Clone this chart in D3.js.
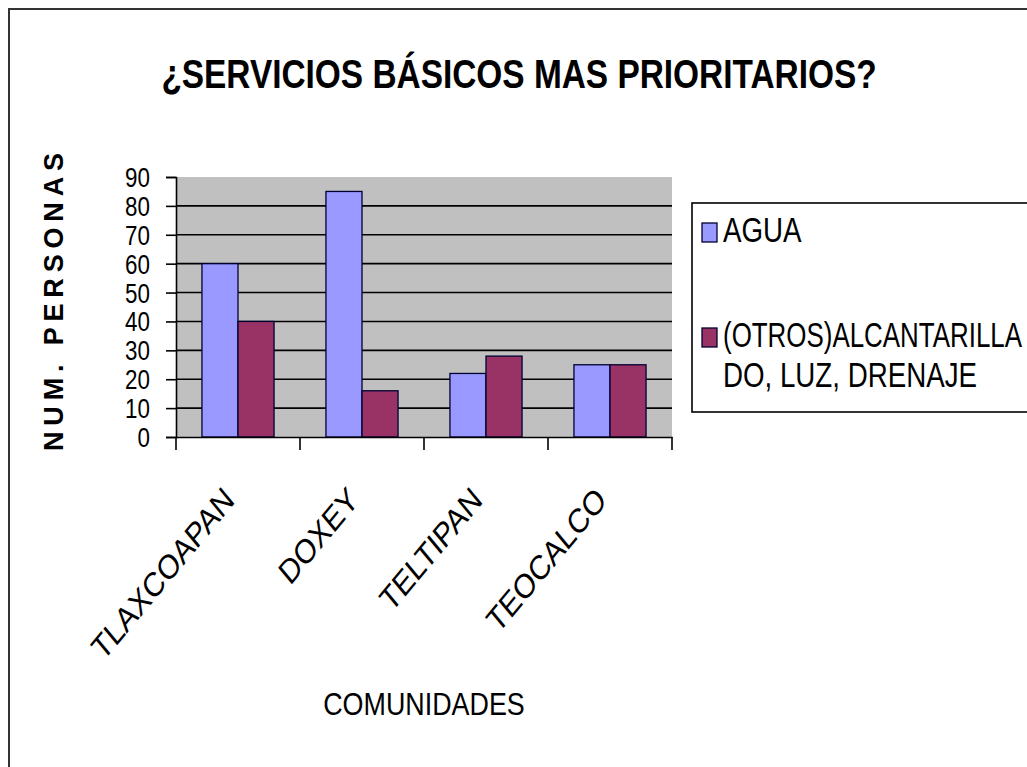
<!DOCTYPE html>
<html>
<head>
<meta charset="utf-8">
<script src="https://cdn.jsdelivr.net/npm/d3@7"></script>
<style>
  body { margin: 0; background: #fff; }
  svg { display: block; font-family: "Liberation Sans", Arial, sans-serif; }
</style>
</head>
<body>
<svg id="chart"></svg>
<script>
// data
var comunidades = ["TLAXCOAPAN", "DOXEY", "TELTIPAN", "TEOCALCO"];
var agua = [60, 85, 22, 25];
var otros = [40, 16, 28, 25];
var series = ["AGUA", "(OTROS)ALCANTARILLADO, LUZ, DRENAJE"];
var colores = ["#9999FF", "#993366"];
var yTicks = [0, 10, 20, 30, 40, 50, 60, 70, 80, 90];

var svgWidth = 1027, svgHeight = 767;
var plot = { left: 176, right: 672, top: 177, bottom: 437 };

var svg = d3.select("#chart")
    .attr("width", svgWidth)
    .attr("height", svgHeight);

// the original picture is squeezed sideways, so text is squeezed too
function squeeze(px, py, f, extra) {
    return "translate(" + px + "," + py + ") scale(" + f + ",1)" + (extra || "");
}

// outer frame (only top and left show)
svg.append("path")
    .attr("d", "M9,767 V9 H1027")
    .attr("fill", "none")
    .attr("stroke", "#333")
    .attr("stroke-width", 2);

// title
svg.append("text")
    .attr("transform", squeeze(519, 88, 0.815))
    .attr("text-anchor", "middle")
    .attr("font-size", 41)
    .attr("font-weight", "bold")
    .text("¿SERVICIOS BÁSICOS MAS PRIORITARIOS?");

var x = d3.scaleBand()
    .domain(comunidades)
    .range([plot.left, plot.right]);

var x1 = d3.scaleBand()
    .domain(d3.range(series.length))
    .range([0, x.bandwidth()])
    .paddingOuter(0.72);

var y = d3.scaleLinear()
    .domain([0, 90])
    .range([plot.bottom, plot.top]);

// plot area
svg.append("rect")
    .attr("x", plot.left)
    .attr("y", y(90))
    .attr("width", plot.right - plot.left)
    .attr("height", y(0) - y(90))
    .attr("fill", "#C0C0C0");

// gridlines
svg.append("g")
    .selectAll("line")
    .data(yTicks.filter(function(d) { return d > 0 && d < 90; }))
    .enter().append("line")
    .attr("x1", plot.left)
    .attr("x2", plot.right)
    .attr("y1", function(d) { return y(d); })
    .attr("y2", function(d) { return y(d); })
    .attr("stroke", "#000")
    .attr("stroke-width", 1.6);

// bars
var grupos = svg.append("g")
    .selectAll("g")
    .data(comunidades)
    .enter().append("g")
    .attr("transform", function(d) { return "translate(" + x(d) + ",0)"; });

grupos.selectAll("rect")
    .data(function(d, i) { return [agua[i], otros[i]]; })
    .enter().append("rect")
    .attr("x", function(d, j) { return x1(j); })
    .attr("width", x1.bandwidth())
    .attr("y", function(d) { return y(d); })
    .attr("height", function(d) { return y(0) - y(d); })
    .attr("fill", function(d, j) { return colores[j]; })
    .attr("stroke", "#000033")
    .attr("stroke-width", 1.3);

// y axis
var yAxis = svg.append("g")
    .attr("transform", "translate(" + plot.left + ",0)")
    .call(d3.axisLeft(y).tickValues(yTicks).tickSize(10).tickFormat(""));
yAxis.select(".domain").attr("stroke", "#000").attr("stroke-width", 1.6);
yAxis.selectAll(".tick line").attr("stroke-width", 1.6);

svg.append("g")
    .selectAll("text")
    .data(yTicks)
    .enter().append("text")
    .attr("transform", function(d) { return squeeze(150, y(d) + 10, 0.8); })
    .attr("text-anchor", "end")
    .attr("font-size", 28)
    .text(function(d) { return d; });

// x axis: line at zero and ticks on band edges
var xAxis = svg.append("g")
    .attr("transform", "translate(0," + plot.bottom + ")")
    .call(d3.axisBottom(x).tickSize(0).tickFormat(""));
xAxis.select(".domain").attr("stroke", "#000").attr("stroke-width", 1.6);

var bordes = comunidades.map(function(d) { return x(d); }).concat([x.range()[1]]);
svg.append("g")
    .selectAll("line")
    .data(bordes)
    .enter().append("line")
    .attr("x1", function(d) { return d; })
    .attr("x2", function(d) { return d; })
    .attr("y1", plot.bottom)
    .attr("y2", plot.bottom + 13)
    .attr("stroke", "#000")
    .attr("stroke-width", 1.6);

// rotated category labels
svg.append("g")
    .selectAll("text")
    .data(comunidades)
    .enter().append("text")
    .attr("text-anchor", "end")
    .attr("font-size", 34)
    .attr("transform", function(d) {
        return squeeze(x(d) + x.bandwidth() / 2 - 2, plot.bottom + 65, 0.83, " rotate(-45)");
    })
    .text(function(d) { return d; });

// axis titles
svg.append("text")
    .attr("transform", squeeze(424, 715, 0.84))
    .attr("text-anchor", "middle")
    .attr("font-size", 32)
    .text("COMUNIDADES");

svg.append("text")
    .attr("transform", "translate(63,302) rotate(-90)")
    .attr("text-anchor", "middle")
    .attr("font-weight", "bold")
    .attr("font-size", 27)
    .attr("textLength", 298)
    .attr("lengthAdjust", "spacing")
    .text("NUM. PERSONAS");

// legend
var legend = svg.append("g");
legend.append("rect")
    .attr("x", 692)
    .attr("y", 203)
    .attr("width", 340)
    .attr("height", 209)
    .attr("fill", "#fff")
    .attr("stroke", "#000")
    .attr("stroke-width", 1.6);

var itemsY = [242, 347];
legend.selectAll(".sw")
    .data(series)
    .enter().append("rect")
    .attr("class", "sw")
    .attr("x", 702)
    .attr("y", function(d, i) { return itemsY[i] - 19; })
    .attr("width", 15)
    .attr("height", 19)
    .attr("fill", function(d, i) { return colores[i]; })
    .attr("stroke", "#000033")
    .attr("stroke-width", 1.3);

legend.append("text")
    .attr("transform", squeeze(723, itemsY[0], 0.77))
    .attr("font-size", 36)
    .text(series[0]);

legend.append("text")
    .attr("transform", squeeze(723, itemsY[1], 0.72))
    .attr("font-size", 36)
    .text("(OTROS)ALCANTARILLA");

legend.append("text")
    .attr("transform", squeeze(723, itemsY[1] + 40, 0.77))
    .attr("font-size", 36)
    .text("DO, LUZ, DRENAJE");
</script>
</body>
</html>
